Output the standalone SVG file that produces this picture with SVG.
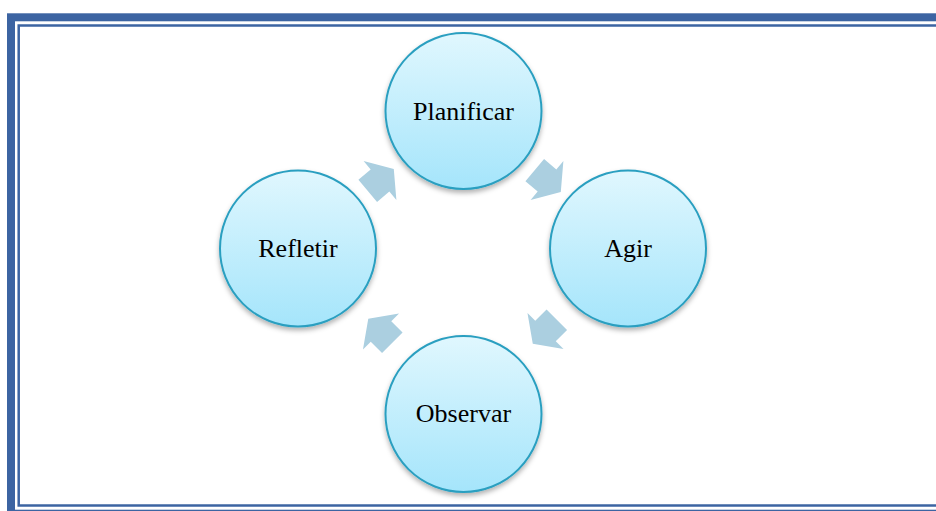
<svg xmlns="http://www.w3.org/2000/svg" width="936" height="511" viewBox="0 0 936 511">
  <style>
    .frame { fill: none; stroke: #3c64a2; }
    .node circle { fill: url(#nodeGrad); stroke: #2a9fc0; stroke-width: 2; filter: url(#shadow); }
    .node text { font-family: "Liberation Serif", "Times New Roman", serif; font-size: 26px; fill: #000; text-anchor: middle; }
    .arrow { fill: #abcfe0; }
  </style>
  <defs>
    <linearGradient id="nodeGrad" x1="0" y1="0" x2="0" y2="1">
      <stop offset="0" stop-color="#e0f7fe"/>
      <stop offset="1" stop-color="#a5e5fb"/>
    </linearGradient>
    <filter id="shadow" x="-20%" y="-20%" width="140%" height="150%">
      <feDropShadow dx="0" dy="3" stdDeviation="2.5" flood-color="#000" flood-opacity="0.3"/>
    </filter>
    <path id="arr" d="M -16 -14.5 L 0 -14.5 L 0 -25.5 L 18 0 L 0 25.5 L 0 14.5 L -16 14.5 Z"/>
  </defs>

  <rect class="frame" x="11" y="17.3" width="960" height="496.4" stroke-width="8"/>
  <rect class="frame" x="18.7" y="25.5" width="960" height="480" stroke-width="2.5"/>

  <g id="connectors">
    <use href="#arr" class="arrow" transform="translate(380 180.5) rotate(-40)"/>
    <use href="#arr" class="arrow" transform="translate(547 180.5) rotate(40)"/>
    <use href="#arr" class="arrow" transform="translate(545.5 331) rotate(135)"/>
    <use href="#arr" class="arrow" transform="translate(381 331.5) rotate(225)"/>
  </g>

  <g id="planificar" class="node">
    <circle cx="463.5" cy="111" r="78"/>
    <text x="463.5" y="120">Planificar</text>
  </g>
  <g id="agir" class="node">
    <circle cx="628" cy="248.5" r="78"/>
    <text x="628" y="257">Agir</text>
  </g>
  <g id="observar" class="node">
    <circle cx="463.5" cy="414" r="78"/>
    <text x="463.5" y="422">Observar</text>
  </g>
  <g id="refletir" class="node">
    <circle cx="298" cy="248.5" r="78"/>
    <text x="298" y="257">Refletir</text>
  </g>
</svg>
